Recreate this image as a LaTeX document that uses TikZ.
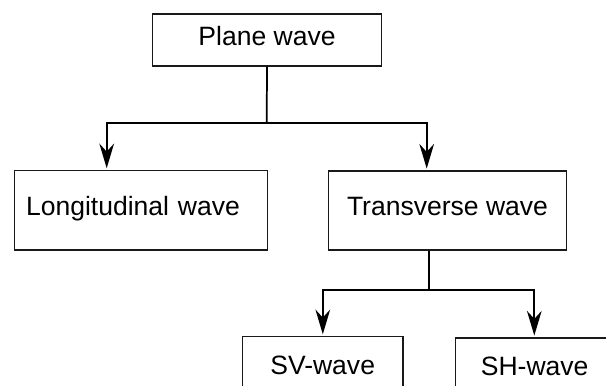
\documentclass[tikz,border=0pt]{standalone}
\usepackage{fontspec}
\setmainfont{Liberation Sans}
\usetikzlibrary{arrows.meta}
\begin{document}
\begin{tikzpicture}[x=0.75pt,y=-0.75pt,
  box/.style={draw=black!90, line width=1pt, anchor=north west, inner sep=0pt,
    font=\fontsize{19.9}{24}\selectfont, text height=14.3pt, text depth=6.6pt},
  conn/.style={line width=1.3pt, black},
  arr/.style={conn, -{Stealth[length=18.5pt,width=11pt,inset=6pt]}, shorten >=1.3pt}]
\useasboundingbox (0,0) rectangle (606,385);
\clip (0,0) rectangle (606,385);
\fill[white] (0,0) rectangle (606,385);
\node[box, minimum width=229.3*0.75pt, minimum height=52*0.75pt] (plane) at (151.7,13.3) {Plane wave};
\node[box, minimum width=252.7*0.75pt, minimum height=79.3*0.75pt, text width=230*0.75pt, align=left] (long) at (14,170) {Longitudinal wave};
\node[box, minimum width=238.3*0.75pt, minimum height=79*0.75pt] (trans) at (327.7,170.3) {Transverse wave};
\node[box, minimum width=160.6*0.75pt, minimum height=65*0.75pt] (sv) at (241.7,336) {SV-wave};
\node[box, minimum width=158*0.75pt, minimum height=65*0.75pt] (sh) at (455,337.3) {SH-wave};
\coordinate (j1) at (266.7,122.7);
\coordinate (jl) at (106.7,122.7);
\coordinate (jr) at (426.7,122.7);
\coordinate (j2) at (429,290);
\coordinate (jv) at (322.8,290);
\coordinate (jh) at (534.3,290);
\draw[conn] (plane.south) -- (j1);
\draw[arr] (j1) -- (jl) -- (jl |- long.north);
\draw[arr] (j1) -- (jr) -- (jr |- trans.north);
\draw[conn] (j2 |- trans.south) -- (j2);
\draw[arr] (j2) -- (jv) -- (jv |- sv.north);
\draw[arr] (j2) -- (jh) -- (jh |- sh.north);
\end{tikzpicture}
\end{document}
